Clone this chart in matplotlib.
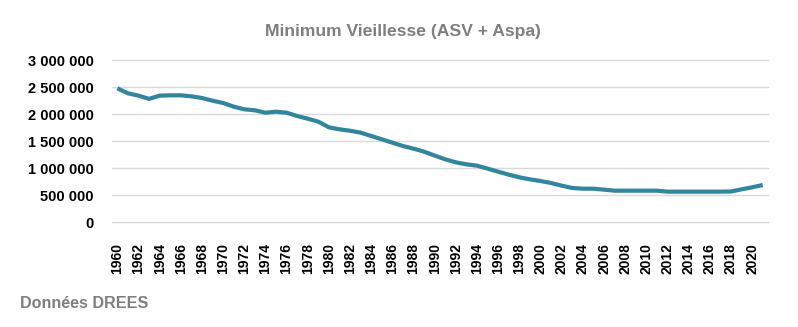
import matplotlib.pyplot as plt
from matplotlib.ticker import FuncFormatter, MultipleLocator

years = list(range(1960, 2022))
beneficiaires = [
    2476000, 2383000, 2340000, 2280000, 2340000, 2346000, 2346000, 2327000, 2296000, 2247000,
    2204000, 2136000, 2087000, 2068000, 2024000, 2043000, 2024000, 1963000, 1913000, 1858000,
    1753000, 1716000, 1690000, 1654000, 1593000, 1531000, 1469000, 1407000, 1358000, 1302000,
    1230000, 1160000, 1105000, 1068000, 1043000, 988000, 932000, 877000, 827000, 790000,
    759000, 722000, 673000, 630000, 617000, 617000, 599000, 580000, 580000, 580000,
    580000, 580000, 562000, 562000, 562000, 562000, 562000, 562000, 565000, 605000,
    642000, 685000,
]
year_labels = [str(y) if y % 2 == 0 else "" for y in years]

fig = plt.figure(figsize=(7.98, 3.27), dpi=100)
ax = fig.add_axes([0.1404, 0.3211, 0.8220, 0.4954])

pos = list(range(len(years)))
ax.plot(pos, beneficiaires, color="#31859c", linewidth=3, solid_capstyle="butt")

ax.set_xlim(-0.5, len(years) - 0.5)
ax.set_ylim(0, 3000000)
ax.yaxis.set_major_locator(MultipleLocator(500000))
ax.yaxis.set_major_formatter(FuncFormatter(lambda v, p: f"{v:,.0f}".replace(",", " ")))
ax.set_xticks(pos)
ax.set_xticklabels(year_labels, rotation=90, fontsize=10, fontweight="bold",
                   family="Liberation Sans")
for lab in ax.get_yticklabels():
    lab.set_fontweight("bold")
    lab.set_fontsize(10.5)
    lab.set_family("Liberation Sans")

ax.grid(axis="y", color="#d9d9d9", linewidth=1)
for gl in ax.get_ygridlines():
    gl.set_clip_on(False)
ax.set_axisbelow(True)
for s in ax.spines.values():
    s.set_visible(False)
ax.tick_params(axis="both", length=0)
ax.tick_params(axis="y", pad=13)
ax.tick_params(axis="x", pad=15)

fig.text(0.505, 0.905, "Minimum Vieillesse (ASV + Aspa)", ha="center", va="center",
         fontsize=12.6, color="#7f7f7f", fontweight="bold", family="Liberation Sans")
fig.text(0.025, 0.073, "Données DREES", ha="left", va="center",
         fontsize=11.6, color="#7f7f7f", fontweight="bold", family="Liberation Sans")

fig.savefig("out.png", dpi=100)
